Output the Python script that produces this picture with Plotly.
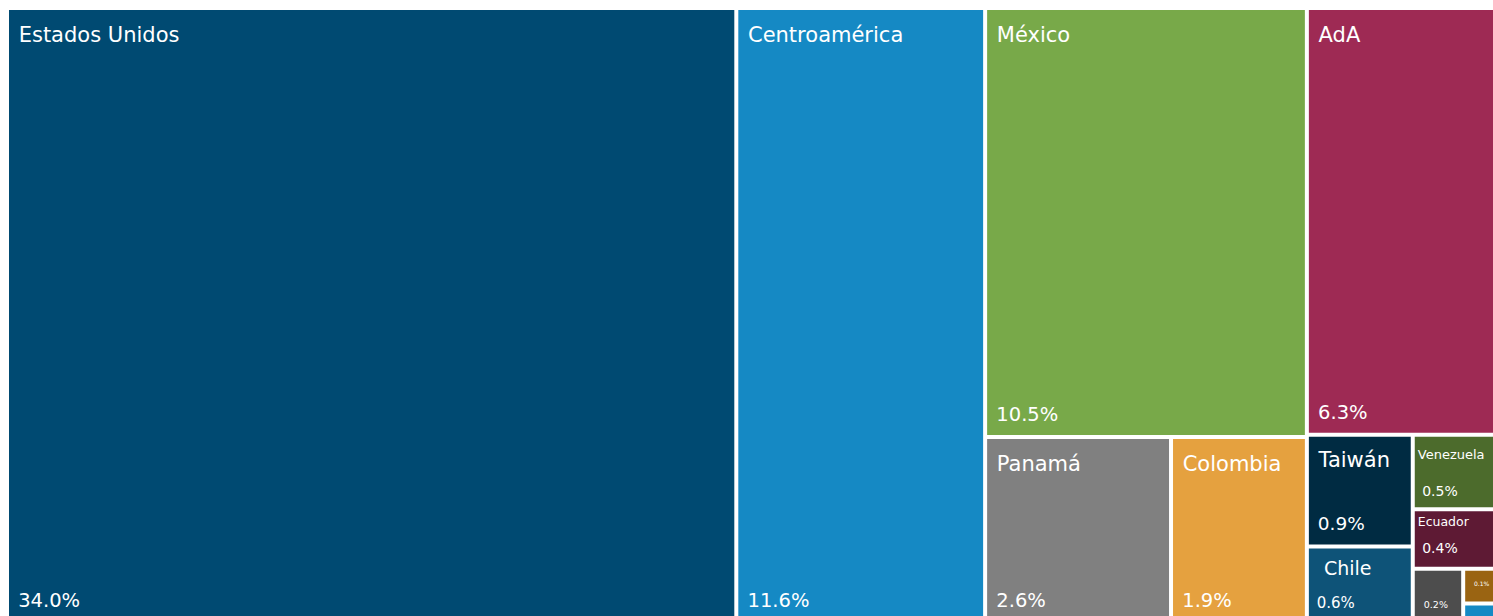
import plotly.graph_objects as go

# ---------------- data ----------------
countries = ["Estados Unidos", "Centroamérica", "México", "AdA", "Panamá", "Colombia",
             "Taiwán", "Chile", "Venezuela", "Ecuador", "Otros (a)", "Otros (b)", "Otros (c)"]
shares = [34.0, 11.6, 10.5, 6.3, 2.6, 1.9, 0.9, 0.6, 0.5, 0.4, 0.2, 0.1, 0.05]
share_text = ["34.0%", "11.6%", "10.5%", "6.3%", "2.6%", "1.9%", "0.9%", "0.6%",
              "0.5%", "0.4%", "0.2%", "0.1%", ""]
show_name = [True, True, True, True, True, True, True, True, True, True, False, False, False]

# grouping of the tiles (block structure of the treemap)
country_parent = ["total", "total", "g_mx", "g_ada", "g_mx_b", "g_mx_b",
                  "g_tw_cl", "g_tw_cl", "g_rest", "g_rest", "g_small", "g_tiny", "g_tiny"]
group_ids = ["total", "g_mx", "g_mx_b", "g_ada", "g_ada_b", "g_tw_cl", "g_rest", "g_small", "g_tiny"]
group_parent = ["", "total", "g_mx", "total", "g_ada", "g_ada_b", "g_ada_b", "g_rest", "g_small"]
node_order = ["total", "Estados Unidos", "Centroamérica", "g_mx", "México", "g_mx_b", "Panamá",
              "Colombia", "g_ada", "AdA", "g_ada_b", "g_tw_cl", "Taiwán", "Chile", "g_rest",
              "Venezuela", "Ecuador", "g_small", "Otros (a)", "g_tiny", "Otros (b)", "Otros (c)"]

# ---------------- style ----------------
tile_colors = ["#004A72", "#1589C4", "#78A949", "#9E2A54", "#808080", "#E5A13F",
               "#002B42", "#0E5378", "#4C6B2C", "#5E1A34", "#4D4D4D", "#9A6412", "#1589C4"]
name_sizes = [21, 21, 21, 21, 21, 21, 21, 19, 13, 12.5, 10, 7, 7]
name_gap = [16, 16, 16, 16, 16, 16, 15, 13, 13, 6, 10, 10, 10]      # tile top -> cap top
name_pad = [1, 1, 1, 1, 1, 1, 1, 2, 0, 0, 0, 0, 0]
value_sizes = [19.5, 19.5, 19.5, 19.5, 19.5, 19.5, 18.5, 15, 14, 14, 9.5, 6, 6]
value_gap = [11, 11, 12, 12, 11, 11, 12, 10, 10, 12, 9, 14, 10]     # baseline -> tile bottom
value_pad = [1, 1, 1, 1, 1, 1, 1, 1, 1, 1, 2, 3, 0]
FONT = "DejaVu Sans"
NB = "\u00a0"
TOP_PAD, BOT_PAD = 3.0, 1.3


def top_label(txt, size, gap):
    s = max((gap - TOP_PAD + 0.73 * size) / 2.23, 0.42 * size)
    return f"{NB}<br><span style='font-size:{size}px'>{txt}</span>", s


def bottom_label(txt, size, gap):
    s = max((gap - BOT_PAD) / 1.536, 0.16 * size)
    return f"<span style='font-size:{size}px'>{txt}</span><br>{NB}", s


cidx = {c: i for i, c in enumerate(countries)}
gidx = {g: i for i, g in enumerate(group_ids)}

ids, parents, values, colors = [], [], [], []
name_txt, value_txt, nsize, vsize = [], [], [], []
for node in node_order:
    ids.append(node)
    if node in cidx:
        i = cidx[node]
        parents.append(country_parent[i])
        values.append(shares[i])
        colors.append(tile_colors[i])
        if show_name[i]:
            t, s = top_label(NB * name_pad[i] + node, name_sizes[i], name_gap[i])
        else:
            t, s = "", 10
        name_txt.append(t)
        nsize.append(s)
        if share_text[i]:
            t, s = bottom_label(NB * value_pad[i] + share_text[i], value_sizes[i], value_gap[i])
        else:
            t, s = "", 10
        value_txt.append(t)
        vsize.append(s)
    else:
        j = gidx[node]
        parents.append(group_parent[j])
        values.append(0)
        colors.append("white")
        name_txt.append("")
        value_txt.append("")
        nsize.append(10)
        vsize.append(10)

common = dict(
    ids=ids, labels=ids, parents=parents, values=values,
    branchvalues="remainder", sort=False,
    tiling=dict(packing="slice-dice", pad=4),
    pathbar=dict(visible=False),
    textinfo="text", hoverinfo="skip",
    domain=dict(x=[0, 1], y=[0, 1]),
)

fig = go.Figure()
fig.add_trace(go.Treemap(
    **common,
    text=name_txt,
    textposition="top left",
    textfont=dict(family=FONT, size=nsize, color="white"),
    marker=dict(colors=colors, line=dict(width=0), pad=dict(t=0, l=0, r=0, b=0)),
    root=dict(color="white"),
))
fig.add_trace(go.Treemap(
    **common,
    text=value_txt,
    textposition="bottom left",
    textfont=dict(family=FONT, size=vsize, color="white"),
    marker=dict(colors=["rgba(0,0,0,0)"] * len(ids), line=dict(width=0),
                pad=dict(t=0, l=0, r=0, b=0)),
    root=dict(color="rgba(0,0,0,0)"),
))

# the original treemap runs slightly past the right and bottom edges of the view
fig.update_layout(
    width=1499, height=619,
    margin=dict(l=9, r=0, t=10, b=0),
    paper_bgcolor="white",
    font=dict(family=FONT),
    showlegend=False,
)

fig.write_html(
    "out.html",
    config={"displayModeBar": False},
    post_script="document.body.style.margin='0';document.body.style.overflow='hidden';"
                "document.documentElement.style.overflow='hidden';",
)
